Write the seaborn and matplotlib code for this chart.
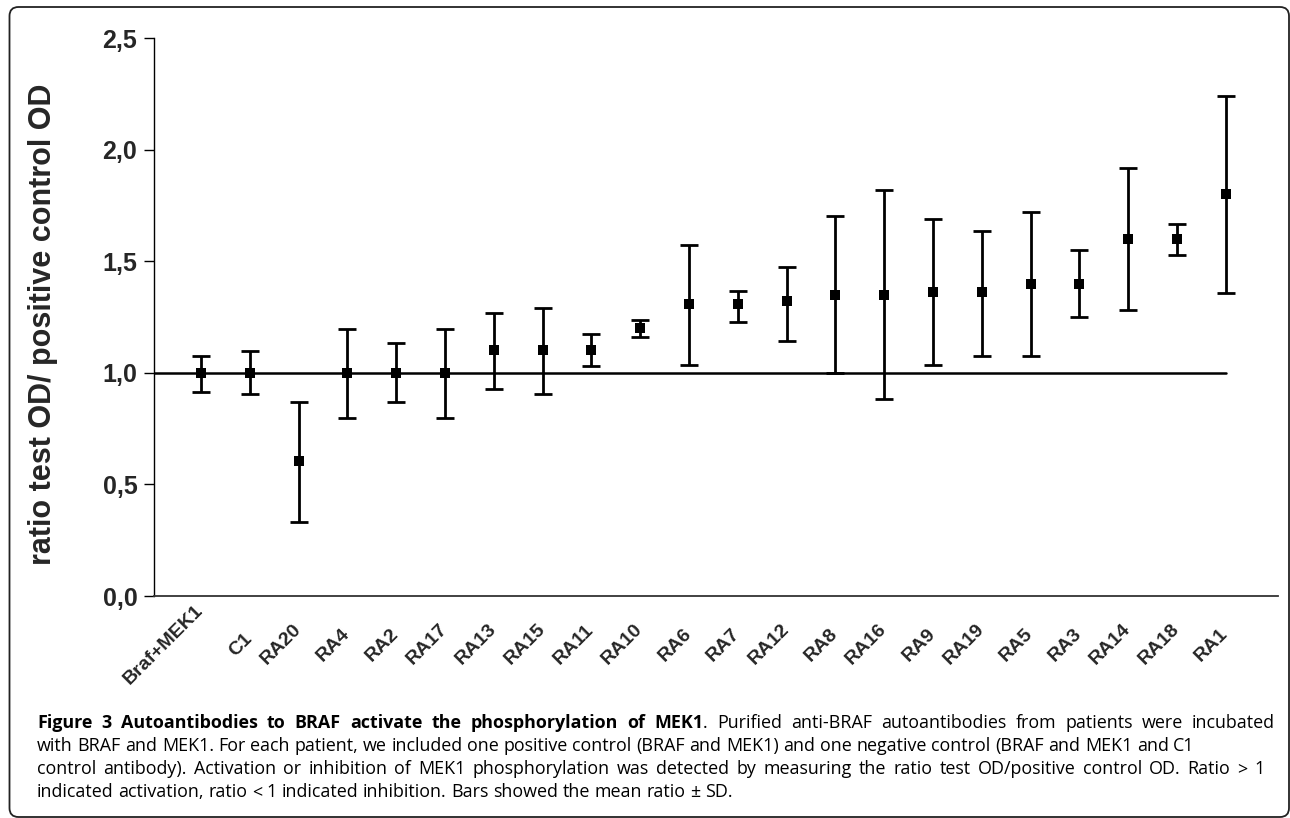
import numpy as np
import pandas as pd
import matplotlib
matplotlib.use("Agg")
import matplotlib.pyplot as plt
import seaborn as sns
from matplotlib.patches import FancyBboxPatch
from matplotlib.transforms import IdentityTransform

# ---------------- data ----------------
categories = ["Braf+MEK1", "C1", "RA20", "RA4", "RA2", "RA17", "RA13", "RA15",
              "RA11", "RA10", "RA6", "RA7", "RA12", "RA8", "RA16", "RA9",
              "RA19", "RA5", "RA3", "RA14", "RA18", "RA1"]
ratio_mean = [1.00, 1.00, 0.605, 1.00, 1.00, 1.00, 1.10, 1.10, 1.10, 1.20, 1.31,
              1.31, 1.32, 1.35, 1.35, 1.36, 1.36, 1.40, 1.40, 1.60, 1.60, 1.80]
ratio_upper = [1.075, 1.098, 0.869, 1.196, 1.133, 1.196, 1.268, 1.290, 1.174,
               1.237, 1.573, 1.367, 1.474, 1.702, 1.819, 1.689, 1.635, 1.720,
               1.550, 1.917, 1.667, 2.240]
ratio_lower = [0.914, 0.905, 0.332, 0.797, 0.869, 0.797, 0.927, 0.905, 1.030,
               1.161, 1.035, 1.228, 1.142, 1.000, 0.883, 1.035, 1.075, 1.075,
               1.250, 1.281, 1.528, 1.358]
y_ticks = [0.0, 0.5, 1.0, 1.5, 2.0, 2.5]
y_tick_labels = ["0,0", "0,5", "1,0", "1,5", "2,0", "2,5"]
reference_ratio = 1.0
y_label = "ratio test OD/ positive control OD"

caption_bold = "Figure 3 Autoantibodies to BRAF activate the phosphorylation of MEK1"
caption_lines = [
    ". Purified anti-BRAF autoantibodies from patients were incubated",
    "with BRAF and MEK1. For each patient, we included one positive control (BRAF and MEK1) and one negative control (BRAF and MEK1 and C1",
    "control antibody). Activation or inhibition of MEK1 phosphorylation was detected by measuring the ratio test OD/positive control OD. Ratio > 1",
    "indicated activation, ratio < 1 indicated inhibition. Bars showed the mean ratio \u00b1 SD.",
]

# ---------------- style ----------------
sns.set_theme(style="white")
plt.rcParams['font.family'] = ['Liberation Sans', 'DejaVu Sans']

W, H = 1290, 818
fig = plt.figure(figsize=(W / 100, H / 100), dpi=100)
fig.patch.set_facecolor("white")


def px_rect(l, t, r, b):
    return [l / W, 1 - b / H, (r - l) / W, (b - t) / H]


ax_left, ax_top, ax_right, ax_bottom = 154, 38, 1278, 596
ax = fig.add_axes(px_rect(ax_left, ax_top, ax_right, ax_bottom))
ax.patch.set_visible(False)

df = pd.DataFrame({
    "pos": np.arange(len(categories)),
    "category": categories,
    "mean": ratio_mean,
    "lower": ratio_lower,
    "upper": ratio_upper,
})

ax.errorbar(df["pos"], df["mean"],
            yerr=[df["mean"] - df["lower"], df["upper"] - df["mean"]],
            fmt="none", ecolor="black", elinewidth=2.0, capsize=6.5,
            capthick=2.0, zorder=3)
sns.scatterplot(data=df, x="pos", y="mean", marker="s", s=60, color="black",
                edgecolor="black", linewidth=0, ax=ax, zorder=4, legend=False)

xmin = -0.963
xmax = 22.07
ax.set_xlim(xmin, xmax)
ax.set_ylim(0, 2.5)

ax.axhline(reference_ratio, xmin=0,
           xmax=(df["pos"].iloc[-1] - xmin) / (xmax - xmin),
           color="black", lw=1.8, zorder=2)

ax.set_yticks(y_ticks)
ax.set_yticklabels(y_tick_labels, fontsize=18, fontweight="bold")
ax.set_xticks(df["pos"] + 0.12)
ax.set_xticklabels(categories, rotation=45, ha="right", va="center",
                   fontsize=14, fontweight="bold")
ax.tick_params(axis="y", direction="out", length=7, width=1, color="black",
               left=True, pad=5)
ax.tick_params(axis="x", length=0, pad=35)
ax.set_xlabel("")
ax.set_ylabel(y_label, fontsize=22, fontweight="bold")
ax.yaxis.set_label_coords(-0.085, 0.486)

for side in ["top", "right"]:
    ax.spines[side].set_visible(False)
ax.spines["left"].set_color("black")
ax.spines["left"].set_linewidth(1.0)
ax.spines["bottom"].set_color("#333333")
ax.spines["bottom"].set_linewidth(1.3)
ax.grid(False)

# ---------------- caption ----------------
cap_font = ['Open Sans', 'DejaVu Sans']
cap_size = 12.9
x_start = 37
baselines = [728, 751, 774, 797]
fig.canvas.draw()
renderer = fig.canvas.get_renderer()


def text_width(s, weight):
    t = fig.text(0, 0, s, family=cap_font, fontsize=cap_size, fontweight=weight)
    w = t.get_window_extent(renderer=renderer).width
    t.remove()
    return w


def draw_line(segments, yb, x_end=None):
    """segments: list of (text, weight); justify words to x_end if given."""
    words = []
    for seg_text, weight in segments:
        for i, wd in enumerate(seg_text.split(" ")):
            if wd == "":
                continue
            attach = (i == 0 and len(words) > 0 and not seg_text.startswith(" "))
            words.append([wd, weight, attach])
    widths = [text_width(w[0], w[1]) for w in words]
    space = text_width("a a", "normal") - text_width("aa", "normal")
    n_gaps = sum(1 for w in words[1:] if not w[2])
    natural = sum(widths) + space * n_gaps
    if x_end is not None and n_gaps > 0:
        space = space + (x_end - x_start - natural) / n_gaps
    x = x_start
    for (wd, weight, attach), wdt in zip(words, widths):
        if x != x_start and not attach:
            x += space
        fig.text(x / W, 1 - yb / H, wd, family=cap_font, fontsize=cap_size,
                 fontweight=weight, va="baseline", ha="left", color="black")
        x += wdt


draw_line([(caption_bold, "bold"), (caption_lines[0], "normal")], baselines[0], x_end=1275)
draw_line([(caption_lines[1], "normal")], baselines[1])
draw_line([(caption_lines[2], "normal")], baselines[2], x_end=1265)
draw_line([(caption_lines[3], "normal")], baselines[3])

# ---------------- rounded frame ----------------
frame = FancyBboxPatch((9.5, H - 817), 1289 - 9.5, 817 - 7,
                       boxstyle="round,pad=0,rounding_size=9",
                       transform=IdentityTransform(), fill=False,
                       edgecolor="#222222", linewidth=1.3)
fig.patches.append(frame)

fig.savefig("out.png", dpi=100, facecolor="white")
